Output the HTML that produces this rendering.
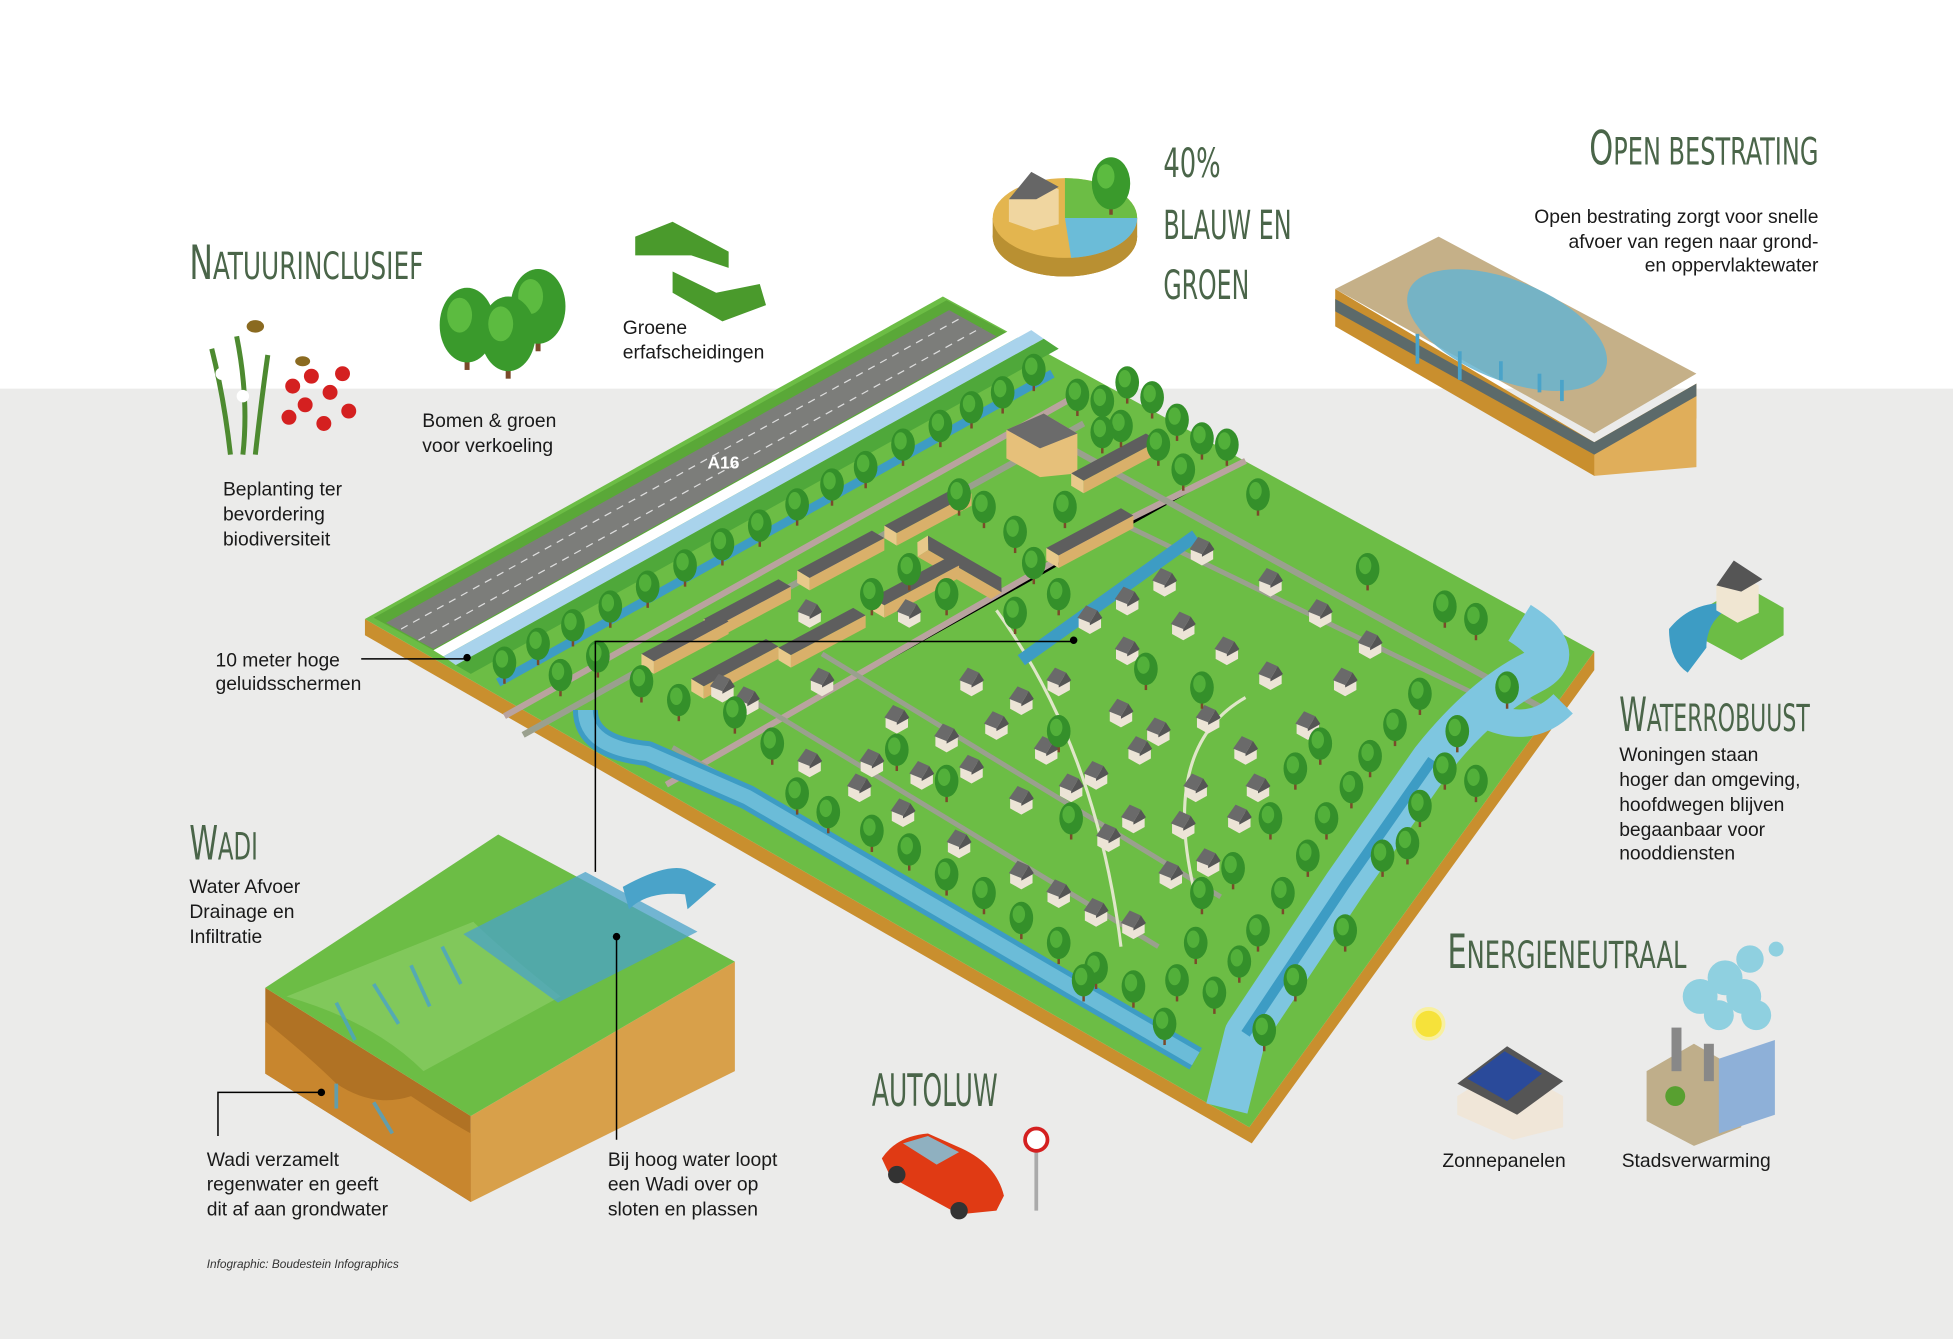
<!DOCTYPE html>
<html><head><meta charset="utf-8"><style>
html,body{margin:0;padding:0;background:#fff}
svg{display:block}
.h{font-family:"DejaVu Sans Condensed","Liberation Sans Narrow","Liberation Sans",sans-serif;fill:#4a6549}
.t{font-family:"Liberation Sans",sans-serif;font-size:15.5px;fill:#1a1a1a}
</style></head><body>
<svg width="1953" height="1339" viewBox="0 0 1568 1075" xmlns="http://www.w3.org/2000/svg">
<defs>
<g id="tr"><rect x="-1" y="5" width="2" height="9" fill="#7a4a2a"/><ellipse cx="0" cy="-3" rx="9.5" ry="13" fill="#34902a"/><ellipse cx="-2" cy="-6" rx="5" ry="7" fill="#52b03a"/></g>
<g id="bt"><rect x="-2" y="10" width="4" height="22" fill="#7a4a2a"/><ellipse cx="0" cy="-4" rx="22" ry="30" fill="#3a9a2c"/><ellipse cx="-6" cy="-12" rx="10" ry="14" fill="#5cbb40"/></g>
<g id="hs"><polygon points="-9,0 0,-5 9,0 9,9 0,14 -9,9" fill="#ece4d6"/><polygon points="-10,1 -3,-9 6,-5 0,5" fill="#6a6a6a"/><polygon points="0,5 6,-5 10,1 9,2 0,7" fill="#555"/></g>
<g id="rw"><polygon points="0,0 60,-32 70,-26 10,6" fill="#5e5e5e"/><polygon points="0,0 10,6 10,16 0,10" fill="#e8c98a"/><polygon points="10,6 70,-26 70,-16 10,16" fill="#d9b06a"/></g>
</defs>
<rect width="1568" height="1075" fill="#fff"/>
<rect y="312" width="1568" height="763" fill="#ebebea"/>

<!-- board -->
<polygon points="293,497 1003,905 1280,523 1280,538 1005,918 293,510" fill="#c98f2e"/>
<polygon points="293,497 757,238 1280,523 1003,905" fill="#6cbd45"/>
<!-- highway -->
<polygon points="300,496 760,241 808,267 348,522" fill="#5aa838"/>
<polygon points="310,500 762,249 800,270 348,521" fill="#7c7d7a"/>
<line x1="322" y1="505" x2="772" y2="255" stroke="#ddd" stroke-width="1" stroke-dasharray="6 5"/>
<line x1="336" y1="514" x2="788" y2="263" stroke="#ddd" stroke-width="1" stroke-dasharray="6 5"/>
<polygon points="348,522 820,260 828,265 356,527" fill="#ffffff"/>
<polygon points="356,527 828,265 838,272 366,534" fill="#a9d3ec"/>
<polygon points="366,534 838,272 850,280 378,541" fill="#4fa83a"/>
<text x="568" y="376" font-family="Liberation Sans,sans-serif" font-weight="bold" font-size="14" fill="#fff">A16</text>
<path d="M400,548 L845,300" stroke="#3d9cc4" stroke-width="7"/>
<!-- roads -->
<path d="M405,575 L860,320" stroke="#b9a39f" stroke-width="5"/>
<path d="M420,590 L870,340" stroke="#9aa08e" stroke-width="5"/>
<path d="M535,630 L900,420 L1000,370" stroke="#b9a39f" stroke-width="5"/>
<path d="M860,360 L1250,575" stroke="#9aa08e" stroke-width="5"/>
<path d="M540,600 L900,810" stroke="#9aa08e" stroke-width="4"/>
<path d="M600,560 L930,760" stroke="#9aa08e" stroke-width="4"/>
<path d="M660,525 L980,720" stroke="#9aa08e" stroke-width="4"/>
<path d="M900,420 L1190,560" stroke="#9aa08e" stroke-width="4"/>
<path d="M800,490 Q880,600 900,760" stroke="#dfe6c8" stroke-width="2.5" fill="none"/>
<path d="M1000,560 Q930,600 960,720" stroke="#dfe6c8" stroke-width="2.5" fill="none"/>
<!-- canals -->
<path d="M470,570 Q470,600 520,605 L600,640 L860,792 L960,850" stroke="#3d9cc4" stroke-width="20" fill="none" stroke-linejoin="round"/>
<path d="M470,570 Q470,600 520,605 L600,640 L860,792 L960,850" stroke="#6bbcd8" stroke-width="12" fill="none"/>
<path d="M820,530 L960,430" stroke="#3d9cc4" stroke-width="10"/>
<path d="M1220,500 Q1260,525 1230,540 Q1190,560 1150,610 L1080,710 L1000,830 L985,890" stroke="#7ec6e0" stroke-width="34" fill="none" stroke-linejoin="round"/>
<path d="M1150,610 L1080,710 L1000,830" stroke="#3d9cc4" stroke-width="8" fill="none"/>
<path d="M1195,575 Q1230,590 1255,565" stroke="#7ec6e0" stroke-width="22" fill="none"/>
<!-- buildings -->
<polygon points="808,345 838,332 865,348 865,380 835,383 808,368" fill="#e6c07a"/>
<polygon points="808,345 838,332 865,348 835,360" fill="#6b6b6b"/>
<use href="#rw" x="710" y="422"/><use href="#rw" x="640" y="458"/><use href="#rw" x="565" y="497"/><use href="#rw" x="515" y="525"/>
<use href="#rw" x="745" y="430" transform="rotate(58 745 430)"/>
<use href="#rw" x="860" y="380"/><use href="#rw" x="840" y="440"/>
<use href="#rw" x="555" y="545"/><use href="#rw" x="625" y="520"/><use href="#rw" x="700" y="480"/>
<g>
<use href="#hs" x="875" y="495"/><use href="#hs" x="905" y="480"/><use href="#hs" x="935" y="465"/><use href="#hs" x="965" y="440"/><use href="#hs" x="1020" y="465"/><use href="#hs" x="1060" y="490"/><use href="#hs" x="1100" y="515"/>
<use href="#hs" x="905" y="520"/><use href="#hs" x="950" y="500"/><use href="#hs" x="985" y="520"/><use href="#hs" x="1020" y="540"/><use href="#hs" x="1050" y="580"/><use href="#hs" x="1080" y="545"/>
<use href="#hs" x="780" y="545"/><use href="#hs" x="820" y="560"/><use href="#hs" x="850" y="545"/><use href="#hs" x="900" y="570"/><use href="#hs" x="930" y="585"/><use href="#hs" x="970" y="575"/><use href="#hs" x="1000" y="600"/>
<use href="#hs" x="720" y="575"/><use href="#hs" x="760" y="590"/><use href="#hs" x="800" y="580"/><use href="#hs" x="840" y="600"/><use href="#hs" x="880" y="620"/><use href="#hs" x="915" y="600"/><use href="#hs" x="960" y="630"/><use href="#hs" x="1010" y="630"/>
<use href="#hs" x="700" y="610"/><use href="#hs" x="740" y="620"/><use href="#hs" x="780" y="615"/><use href="#hs" x="820" y="640"/><use href="#hs" x="860" y="630"/><use href="#hs" x="910" y="655"/><use href="#hs" x="950" y="660"/><use href="#hs" x="995" y="655"/>
<use href="#hs" x="650" y="610"/><use href="#hs" x="690" y="630"/><use href="#hs" x="725" y="650"/><use href="#hs" x="770" y="675"/><use href="#hs" x="820" y="700"/><use href="#hs" x="850" y="715"/><use href="#hs" x="880" y="730"/><use href="#hs" x="910" y="740"/><use href="#hs" x="890" y="670"/><use href="#hs" x="940" y="700"/><use href="#hs" x="970" y="690"/>
<use href="#hs" x="600" y="560"/><use href="#hs" x="580" y="550"/><use href="#hs" x="660" y="545"/><use href="#hs" x="650" y="490"/><use href="#hs" x="730" y="490"/>
</g>
<!-- trees -->
<g>
<use href="#tr" x="405" y="535"/><use href="#tr" x="432" y="520"/><use href="#tr" x="460" y="505"/><use href="#tr" x="490" y="490"/><use href="#tr" x="520" y="474"/><use href="#tr" x="550" y="457"/><use href="#tr" x="580" y="440"/><use href="#tr" x="610" y="425"/><use href="#tr" x="640" y="408"/><use href="#tr" x="668" y="392"/><use href="#tr" x="695" y="378"/><use href="#tr" x="725" y="360"/><use href="#tr" x="755" y="345"/><use href="#tr" x="780" y="330"/><use href="#tr" x="805" y="318"/><use href="#tr" x="830" y="300"/>
<use href="#tr" x="450" y="545"/><use href="#tr" x="480" y="530"/><use href="#tr" x="515" y="550"/><use href="#tr" x="545" y="565"/><use href="#tr" x="590" y="575"/><use href="#tr" x="620" y="600"/>
<use href="#tr" x="865" y="320"/><use href="#tr" x="885" y="325"/><use href="#tr" x="905" y="310"/><use href="#tr" x="925" y="322"/><use href="#tr" x="945" y="340"/><use href="#tr" x="965" y="355"/><use href="#tr" x="985" y="360"/><use href="#tr" x="900" y="345"/><use href="#tr" x="930" y="360"/><use href="#tr" x="950" y="380"/><use href="#tr" x="885" y="350"/>
<use href="#tr" x="1010" y="400"/><use href="#tr" x="1098" y="460"/><use href="#tr" x="1160" y="490"/><use href="#tr" x="1185" y="500"/><use href="#tr" x="1210" y="555"/>
<use href="#tr" x="770" y="400"/><use href="#tr" x="790" y="410"/><use href="#tr" x="815" y="430"/><use href="#tr" x="830" y="455"/><use href="#tr" x="855" y="410"/><use href="#tr" x="760" y="480"/><use href="#tr" x="730" y="460"/><use href="#tr" x="700" y="480"/><use href="#tr" x="850" y="480"/><use href="#tr" x="815" y="495"/>
<use href="#tr" x="640" y="640"/><use href="#tr" x="665" y="655"/><use href="#tr" x="700" y="670"/><use href="#tr" x="730" y="685"/><use href="#tr" x="760" y="705"/><use href="#tr" x="790" y="720"/><use href="#tr" x="820" y="740"/><use href="#tr" x="850" y="760"/><use href="#tr" x="880" y="780"/><use href="#tr" x="910" y="795"/><use href="#tr" x="935" y="825"/><use href="#tr" x="870" y="790"/>
<use href="#tr" x="1140" y="560"/><use href="#tr" x="1120" y="585"/><use href="#tr" x="1100" y="610"/><use href="#tr" x="1085" y="635"/><use href="#tr" x="1065" y="660"/><use href="#tr" x="1050" y="690"/><use href="#tr" x="1030" y="720"/><use href="#tr" x="1010" y="750"/><use href="#tr" x="995" y="775"/><use href="#tr" x="975" y="800"/><use href="#tr" x="960" y="760"/><use href="#tr" x="945" y="790"/><use href="#tr" x="965" y="720"/><use href="#tr" x="990" y="700"/><use href="#tr" x="1020" y="660"/><use href="#tr" x="1040" y="620"/><use href="#tr" x="1060" y="600"/>
<use href="#tr" x="1170" y="590"/><use href="#tr" x="1160" y="620"/><use href="#tr" x="1140" y="650"/><use href="#tr" x="1130" y="680"/><use href="#tr" x="1110" y="690"/><use href="#tr" x="1080" y="750"/><use href="#tr" x="1040" y="790"/><use href="#tr" x="1185" y="630"/><use href="#tr" x="1015" y="830"/>
<use href="#tr" x="760" y="630"/><use href="#tr" x="860" y="660"/><use href="#tr" x="920" y="540"/><use href="#tr" x="965" y="555"/><use href="#tr" x="850" y="590"/><use href="#tr" x="720" y="605"/>
</g>

<!-- WADI block -->
<polygon points="213,793 213,862 378,965 378,896" fill="#b07224"/>
<polygon points="378,896 590,772 590,860 378,965" fill="#d8a04a"/>
<path d="M213,862 L213,820 Q250,850 270,870 Q300,890 330,880 Q360,900 378,910 L378,965 Z" fill="#c8862e"/>
<polygon points="213,793 400,670 590,772 378,896" fill="#6cbd45"/>
<path d="M230,800 Q300,820 340,860 L450,800 Q400,760 380,740 Z" fill="#8fcf6a" opacity=".6"/>
<polygon points="372,750 470,700 560,748 448,805" fill="#4aa3c9" opacity=".75"/>
<path d="M500,712 Q540,690 555,700 L575,710 L552,730 L550,718 Q520,715 505,730 Z" fill="#4aa3c9"/>
<g stroke="#4aa3c9" stroke-width="3" opacity=".8"><line x1="270" y1="805" x2="285" y2="835"/><line x1="300" y1="790" x2="320" y2="822"/><line x1="330" y1="775" x2="345" y2="808"/><line x1="355" y1="760" x2="370" y2="790"/><line x1="300" y1="885" x2="315" y2="910"/><line x1="270" y1="870" x2="270" y2="890"/></g>

<!-- open bestrating -->
<polygon points="1072,232 1072,262 1280,382 1362,336 1362,308 1280,355" fill="#c98f2e"/>
<polygon points="1280,355 1362,308 1362,375 1280,382" fill="#e0ae5a"/>
<polygon points="1072,232 1155,190 1362,300 1280,348" fill="#c5b088"/>
<polygon points="1072,240 1280,355 1362,308 1362,318 1280,365 1072,250" fill="#5c6a6a"/>
<ellipse cx="1210" cy="265" rx="85" ry="40" transform="rotate(22 1210 265)" fill="#66b4d0" opacity=".85"/>
<g stroke="#4aa3c9" stroke-width="3"><line x1="1138" y1="268" x2="1138" y2="292"/><line x1="1172" y1="282" x2="1172" y2="305"/><line x1="1205" y1="290" x2="1205" y2="305"/><line x1="1236" y1="300" x2="1236" y2="315"/><line x1="1254" y1="305" x2="1254" y2="322"/></g>

<!-- pie -->
<ellipse cx="855" cy="190" rx="58" ry="32" fill="#b99032"/>
<path d="M797,175 L797,190 A58,32 0 0 0 913,190 L913,175 Z" fill="#b99032"/>
<ellipse cx="855" cy="175" rx="58" ry="32" fill="#e3b54f"/>
<path d="M855,175 L855,143 A58,32 0 0 1 913,175 Z" fill="#6cbd45"/>
<path d="M855,175 L913,175 A58,32 0 0 1 860,207 Z" fill="#6bbcd8"/>
<g transform="translate(892 150) scale(.7)"><use href="#bt"/></g>
<polygon points="810,160 830,142 850,152 850,180 830,185 810,178" fill="#f0d6a0"/>
<polygon points="810,160 828,138 850,150 832,160" fill="#666"/>

<!-- icons left -->
<use href="#bt" x="375" y="265"/><use href="#bt" x="432" y="250"/><use href="#bt" x="408" y="272"/>
<g fill="#4a9a2c"><path d="M510,190 L540,178 L585,202 L585,215 L555,205 L510,205 Z"/><path d="M540,218 L575,235 L610,228 L615,245 L580,258 L540,235 Z"/></g>
<g><path d="M185,365 Q180,320 170,280 M195,365 Q200,320 190,270 M205,365 Q210,320 215,285" stroke="#4d8a30" stroke-width="4" fill="none"/>
<circle cx="178" cy="300" r="5" fill="#fff"/><circle cx="195" cy="318" r="5" fill="#fff"/><circle cx="202" cy="290" r="4" fill="#fff"/>
<g fill="#d42020"><circle cx="235" cy="310" r="6"/><circle cx="250" cy="302" r="6"/><circle cx="265" cy="315" r="6"/><circle cx="245" cy="325" r="6"/><circle cx="275" cy="300" r="6"/><circle cx="280" cy="330" r="6"/><circle cx="260" cy="340" r="6"/><circle cx="232" cy="335" r="6"/></g>
<ellipse cx="205" cy="262" rx="7" ry="5" fill="#8a6a20"/><ellipse cx="243" cy="290" rx="6" ry="4" fill="#8a6a20"/></g>

<!-- waterrobuust icon -->
<polygon points="1365,490 1400,470 1432,488 1432,510 1398,530 1365,512" fill="#6cbd45"/>
<path d="M1340,505 Q1360,480 1395,485 Q1370,495 1370,520 L1355,540 Q1340,530 1340,505 Z" fill="#3d9cc4"/>
<polygon points="1378,470 1395,462 1412,470 1412,492 1395,500 1378,490" fill="#f0e6d2"/>
<polygon points="1378,470 1392,450 1415,465 1398,475" fill="#555"/>

<!-- solar -->
<circle cx="1147" cy="822" r="12" fill="#f6e23a" stroke="#f8f0a0" stroke-width="3"/>
<polygon points="1170,880 1210,855 1255,880 1255,905 1215,915 1170,895" fill="#f0e6d8"/>
<polygon points="1170,870 1210,840 1255,868 1218,895" fill="#555"/>
<polygon points="1178,866 1208,844 1238,862 1210,884" fill="#2a4a9a"/>
<!-- factory -->
<polygon points="1322,860 1360,838 1398,860 1398,905 1360,920 1322,900" fill="#bfae8a"/>
<polygon points="1380,850 1425,835 1425,895 1380,910" fill="#8eb0d8"/>
<rect x="1342" y="825" width="8" height="35" fill="#888"/><rect x="1368" y="838" width="8" height="30" fill="#888"/>
<circle cx="1345" cy="880" r="8" fill="#58a030"/>
<g fill="#8fd0e0"><circle cx="1365" cy="800" r="14"/><circle cx="1385" cy="785" r="14"/><circle cx="1405" cy="770" r="11"/><circle cx="1400" cy="800" r="14"/><circle cx="1380" cy="815" r="12"/><circle cx="1410" cy="815" r="12"/><circle cx="1426" cy="762" r="6"/></g>
<!-- car -->
<path d="M708,930 Q720,912 745,910 L772,922 Q800,935 806,960 L800,972 L770,975 L715,945 Z" fill="#e03a14"/>
<path d="M725,918 L745,912 L770,925 L752,935 Z" fill="#8fb0c0"/>
<circle cx="720" cy="943" r="7" fill="#333"/><circle cx="770" cy="972" r="7" fill="#333"/>
<line x1="832" y1="925" x2="832" y2="972" stroke="#aaa" stroke-width="3"/>
<circle cx="832" cy="915" r="9" fill="#fff" stroke="#d42020" stroke-width="3"/>

<!-- connectors -->
<g stroke="#000" stroke-width="1.2" fill="none">
<path d="M290,529 L375,529"/><path d="M478,700 L478,515 L862,515"/><path d="M495,752 L495,915"/><path d="M175,912 L175,877 L258,877"/>
</g>
<circle cx="375" cy="528" r="3"/><circle cx="862" cy="514" r="3"/><circle cx="495" cy="752" r="3"/><circle cx="258" cy="877" r="3"/>

<!-- headings -->
<text class="h" x="152" y="224" font-size="38" textLength="188" lengthAdjust="spacingAndGlyphs">N<tspan font-size="30">ATUURINCLUSIEF</tspan></text>
<text class="h" x="934" y="142" font-size="32" textLength="46" lengthAdjust="spacingAndGlyphs">40%</text>
<text class="h" x="934" y="192" font-size="32" textLength="103" lengthAdjust="spacingAndGlyphs">BLAUW EN</text>
<text class="h" x="934" y="240" font-size="32" textLength="69" lengthAdjust="spacingAndGlyphs">GROEN</text>
<text class="h" x="1276" y="132" font-size="38" textLength="184" lengthAdjust="spacingAndGlyphs">O<tspan font-size="30">PEN BESTRATING</tspan></text>
<text class="h" x="152" y="690" font-size="38" textLength="55" lengthAdjust="spacingAndGlyphs">W<tspan font-size="30">ADI</tspan></text>
<text class="h" x="700" y="888" font-size="36" textLength="101" lengthAdjust="spacingAndGlyphs">AUTOLUW</text>
<text class="h" x="1300" y="587" font-size="38" textLength="153" lengthAdjust="spacingAndGlyphs">W<tspan font-size="30">ATERROBUUST</tspan></text>
<text class="h" x="1162" y="777" font-size="38" textLength="192" lengthAdjust="spacingAndGlyphs">E<tspan font-size="30">NERGIENEUTRAAL</tspan></text>

<!-- body text -->
<text class="t" x="179" y="398">Beplanting ter</text><text class="t" x="179" y="418">bevordering</text><text class="t" x="179" y="438">biodiversiteit</text>
<text class="t" x="339" y="343">Bomen &amp; groen</text><text class="t" x="339" y="363">voor verkoeling</text>
<text class="t" x="500" y="268">Groene</text><text class="t" x="500" y="288">erfafscheidingen</text>
<g text-anchor="end"><text class="t" x="1460" y="179">Open bestrating zorgt voor snelle</text><text class="t" x="1460" y="199">afvoer van regen naar grond-</text><text class="t" x="1460" y="218">en oppervlaktewater</text></g>
<text class="t" x="173" y="535">10 meter hoge</text><text class="t" x="173" y="554">geluidsschermen</text>
<text class="t" x="152" y="717">Water Afvoer</text><text class="t" x="152" y="737">Drainage en</text><text class="t" x="152" y="757">Infiltratie</text>
<text class="t" x="166" y="936">Wadi verzamelt</text><text class="t" x="166" y="956">regenwater en geeft</text><text class="t" x="166" y="976">dit af aan grondwater</text>
<text class="t" x="488" y="936">Bij hoog water loopt</text><text class="t" x="488" y="956">een Wadi over op</text><text class="t" x="488" y="976">sloten en plassen</text>
<text class="t" x="1300" y="611">Woningen staan</text><text class="t" x="1300" y="631">hoger dan omgeving,</text><text class="t" x="1300" y="651">hoofdwegen blijven</text><text class="t" x="1300" y="671">begaanbaar voor</text><text class="t" x="1300" y="690">nooddiensten</text>
<text class="t" x="1158" y="937">Zonnepanelen</text><text class="t" x="1302" y="937">Stadsverwarming</text>
<text x="166" y="1018" font-family="Liberation Sans,sans-serif" font-style="italic" font-size="9.5" fill="#333">Infographic: Boudestein Infographics</text>
</svg>
</body></html>
